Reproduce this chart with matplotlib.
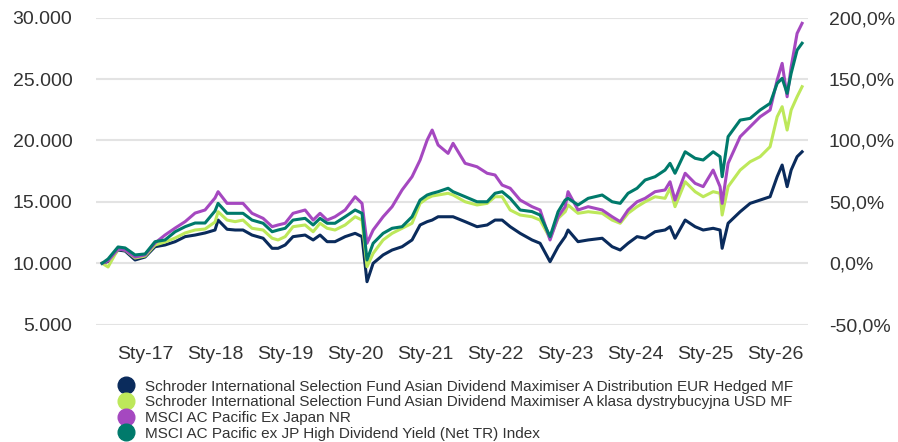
import pandas as pd
import matplotlib
matplotlib.use("Agg")
import matplotlib.pyplot as plt
from matplotlib.lines import Line2D
from matplotlib.ticker import FuncFormatter, MultipleLocator

plt.rcParams["font.family"] = ["Liberation Sans", "DejaVu Sans"]

# Values (growth of 10.000)
dates = [
    "2016-05-22", "2016-06-22", "2016-08-13", "2016-09-19", "2016-11-10", "2017-01-01",
    "2017-02-22", "2017-04-15", "2017-06-07", "2017-07-29", "2017-09-19", "2017-11-10",
    "2018-01-01", "2018-01-17", "2018-03-05", "2018-04-16", "2018-05-27", "2018-07-13",
    "2018-09-09", "2018-10-26", "2018-11-26", "2019-01-02", "2019-02-12", "2019-04-16",
    "2019-05-28", "2019-07-03", "2019-08-09", "2019-09-19", "2019-11-11", "2020-01-02",
    "2020-02-07", "2020-03-04", "2020-04-05", "2020-05-27", "2020-07-13", "2020-09-03",
    "2020-10-25", "2020-12-06", "2021-01-12", "2021-02-07", "2021-03-10", "2021-05-01",
    "2021-05-27", "2021-07-29", "2021-09-29", "2021-11-21", "2022-01-01", "2022-02-07",
    "2022-03-21", "2022-05-12", "2022-07-13", "2022-08-24", "2022-10-15", "2022-11-26",
    "2023-01-02", "2023-01-17", "2023-03-10", "2023-05-02", "2023-07-14", "2023-09-04",
    "2023-10-16", "2023-11-26", "2024-01-12", "2024-02-23", "2024-04-15", "2024-06-06",
    "2024-07-02", "2024-07-28", "2024-09-19", "2024-11-10", "2024-12-22", "2025-02-12",
    "2025-03-20", "2025-03-31", "2025-05-01", "2025-07-03", "2025-08-24", "2025-10-15",
    "2025-12-06", "2026-01-12", "2026-02-07", "2026-03-05", "2026-03-26", "2026-04-26",
    "2026-05-22",
]

fund_eur = [
    10000, 10150, 11080, 11000, 10270, 10510, 11350, 11490, 11760, 12170, 12300, 12470,
    12710, 13520, 12770, 12710, 12710, 12300, 12040, 11220, 11220, 11490, 12170, 12300,
    11900, 12300, 11760, 11760, 12170, 12440, 12170, 8500, 10000, 10680, 11080, 11350,
    11900, 13120, 13390, 13520, 13790, 13790, 13790, 13390, 12980, 13120, 13520, 13520,
    12980, 12440, 11900, 11630, 10130, 11350, 12170, 12710, 11760, 11900, 12040, 11350,
    11080, 11630, 12170, 12040, 12570, 12710, 12980, 12040, 13520, 12980, 12710, 12850,
    12710, 11220, 13260, 14200, 14880, 15150, 15420, 17050, 18000, 16240, 17590, 18680,
    19080,
]
fund_usd = [
    10000, 9700, 11160, 11080, 10430, 10590, 11490, 11730, 12060, 12470, 12710, 12790,
    13360, 14200, 13520, 13390, 13520, 12850, 12710, 12040, 11900, 12170, 12980, 13120,
    12570, 13260, 12850, 12710, 13120, 13790, 13520, 9720, 10810, 11900, 12440, 12850,
    13260, 14880, 15290, 15480, 15560, 15700, 15560, 15010, 14750, 14880, 15420, 15420,
    14340, 13930, 13790, 13520, 12040, 13660, 14200, 14750, 14070, 14200, 14070, 13520,
    13260, 14070, 14610, 15010, 15420, 15290, 16110, 14610, 16640, 15830, 15420, 15830,
    15700, 13930, 16240, 17590, 18270, 18680, 19490, 21930, 22750, 20850, 22480, 23560,
    24380,
]
msci_pac = [
    10000, 10200, 11160, 11080, 10510, 10680, 11650, 12300, 12870, 13390, 14090, 14340,
    15320, 15830, 14880, 14880, 14880, 14070, 13660, 12980, 13120, 13260, 14070, 14340,
    13520, 14070, 13520, 13790, 14340, 15420, 14880, 11630, 12710, 13790, 14610, 15970,
    17050, 18410, 20040, 20850, 19630, 18950, 19770, 18140, 17860, 17330, 17190, 16370,
    16110, 15150, 14610, 14340, 11900, 13790, 14610, 15830, 14340, 14610, 14340, 13790,
    13390, 14340, 15010, 15290, 15830, 15970, 16640, 15150, 17330, 16510, 16240, 17590,
    16240, 14880, 18140, 20310, 21120, 21930, 22480, 24920, 26280, 23560, 26000, 28720,
    29540,
]
msci_hdy = [
    10000, 10350, 11330, 11250, 10680, 10760, 11760, 11900, 12570, 12980, 13280, 13280,
    14260, 14880, 14070, 14070, 14070, 13520, 13260, 12570, 12710, 12850, 13520, 13660,
    13120, 13660, 13260, 13260, 13790, 14340, 14070, 10270, 11630, 12440, 12850, 12980,
    13790, 15150, 15560, 15700, 15830, 16110, 15830, 15420, 15010, 15010, 15700, 15830,
    15290, 14340, 14210, 13930, 12170, 14200, 15150, 15290, 14750, 15290, 15560, 15010,
    14880, 15700, 16110, 16780, 17050, 17590, 18140, 17330, 19080, 18550, 18410, 19080,
    18680, 17050, 20310, 21660, 21800, 22480, 23020, 24650, 25060, 23840, 25470, 27360,
    27920,
]

labels = [
    "Schroder International Selection Fund Asian Dividend Maximiser A Distribution EUR Hedged MF",
    "Schroder International Selection Fund Asian Dividend Maximiser A klasa dystrybucyjna USD MF",
    "MSCI AC Pacific Ex Japan NR",
    "MSCI AC Pacific ex JP High Dividend Yield (Net TR) Index",
]
colors = ["#0a2b5c", "#bde85a", "#a548c0", "#007a6b"]
tick_years = list(range(2017, 2027))

x = pd.to_datetime(dates)
series = [fund_eur, fund_usd, msci_pac, msci_hdy]

fig = plt.figure(figsize=(8.98, 4.42), dpi=100)
ax = fig.add_axes([0.1069, 0.2654, 0.7929, 0.6946])

for vals, c in zip(series, colors):
    ax.plot(x, vals, color=c, lw=2.2, solid_joinstyle="round")

ax.set_ylim(5000, 30000)
ax.set_xlim(pd.Timestamp("2016-04-20"), pd.Timestamp("2026-06-22"))
ax.yaxis.set_major_locator(MultipleLocator(5000))
ax.yaxis.set_major_formatter(FuncFormatter(lambda v, p: f"{v:,.0f}".replace(",", ".")))
ax.set_xticks([pd.Timestamp(f"{y}-01-01") for y in tick_years])
ax.set_xticklabels([f"Sty-{y % 100:02d}" for y in tick_years])
ax.grid(axis="y", color="#e3e3e3", lw=1.5)
ax.set_axisbelow(True)
for s in ax.spines.values():
    s.set_visible(False)
ax.tick_params(axis="both", length=0, labelsize=14, colors="#333333")
ax.tick_params(axis="y", pad=17)
ax.tick_params(axis="x", pad=15)

ax2 = ax.twinx()
ax2.set_ylim(-50, 200)
ax2.yaxis.set_major_locator(MultipleLocator(50))
ax2.yaxis.set_major_formatter(FuncFormatter(lambda v, p: f"{v:.1f}%".replace(".", ",")))
for s in ax2.spines.values():
    s.set_visible(False)
ax2.tick_params(axis="y", length=0, labelsize=14, colors="#333333", pad=15)

handles = [Line2D([], [], marker="o", ls="", color=c, markersize=12) for c in colors]
fig.legend(handles, labels, loc="upper left", bbox_to_anchor=(0.1236, 0.158),
           frameon=False, fontsize=11, handletextpad=0.75, labelspacing=0.11,
           handlelength=1.0, borderpad=0, labelcolor="#333333")

fig.savefig("out.png", dpi=100)
